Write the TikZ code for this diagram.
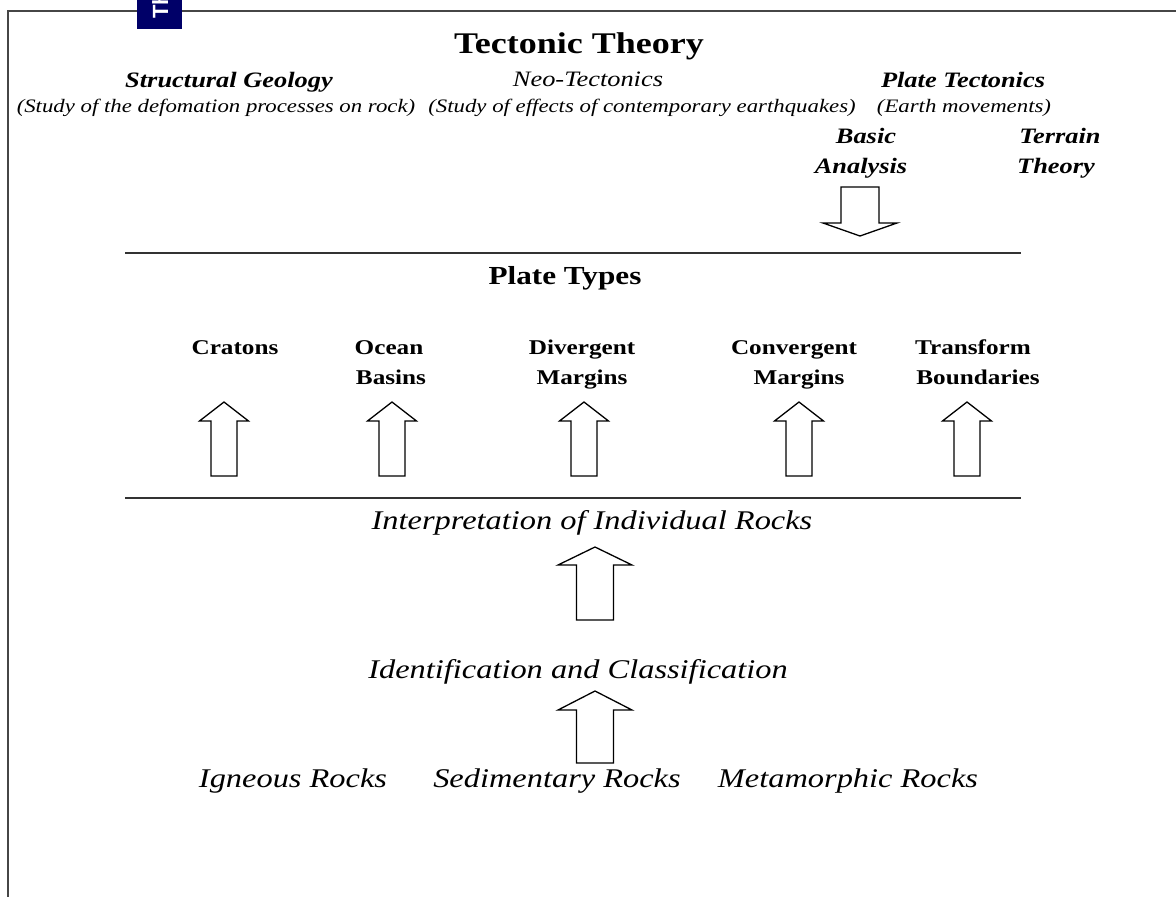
\documentclass[tikz,border=0pt]{standalone}
\usepackage{fontspec}
\setmainfont{Liberation Serif}[FakeStretch=1.2]
\setsansfont{Liberation Sans}
\definecolor{navybox}{RGB}{0,0,104}
\definecolor{framegray}{RGB}{70,70,70}
\tikzset{
  pics/uparrow/.style n args={4}{code={
    \draw[blk] (0,0) -- (#1,#3) -- (#2,#3) -- (#2,#4) -- (-#2,#4) -- (-#2,#3) -- (-#1,#3) -- cycle;}},
  blk/.style={draw=black, line width=1.3pt, fill=white, line join=miter},
  frameline/.style={draw=framegray, line width=2pt},
  ruleline/.style={draw=black!80, line width=2pt},
  txt/.style={anchor=base, inner sep=0pt},
  titletxt/.style={txt, font=\bfseries\fontsize{30}{36}\selectfont},
  typetxt/.style={txt, font=\bfseries\fontsize{26}{31}\selectfont},
  headbi/.style={txt, font=\bfseries\itshape\fontsize{22}{26}\selectfont},
  headi/.style={txt, font=\itshape\fontsize{22}{26}\selectfont},
  smalli/.style={txt, font=\itshape\fontsize{19}{23}\selectfont},
  labeltxt/.style={txt, font=\bfseries\fontsize{21}{25}\selectfont},
  bigi/.style={txt, font=\itshape\fontsize{27}{32}\selectfont},
}
\begin{document}
\begin{tikzpicture}[x=1pt,y=-1pt]
\useasboundingbox (0,0) rectangle (1176,897);
\fill[white] (0,0) rectangle (1176,897);
% frame
\draw[frameline] (8,897) -- (8,11) -- (1176,11);
\fill[navybox] (137,0) rectangle (182,29);
\begin{scope}
  \clip (137,0) rectangle (182,29);
  \node[anchor=base west, inner sep=0pt, rotate=90, text=white, font=\sffamily\bfseries\fontsize{22}{26}\selectfont] (tab) at (168,19) {Th};
\end{scope}
% headings
\node[titletxt] (title) at (579,53) {Tectonic Theory};
\node[headbi] (sg) at (229,87) {Structural Geology};
\node[smalli] (sgd) at (216,112) {(Study of the defomation processes on rock)};
\node[headi] (nt) at (588,86) {Neo-Tectonics};
\node[smalli] (ntd) at (642,112) {(Study of effects of contemporary earthquakes)};
\node[headbi] (pt) at (963,87) {Plate Tectonics};
\node[smalli] (ptd) at (964,112) {(Earth movements)};
\node[headbi] (ba1) at (866,143) {Basic};
\node[headbi] (ba2) at (861,173) {Analysis};
\node[headbi] (tt1) at (1060,143) {Terrain};
\node[headbi] (tt2) at (1056,173) {Theory};
\pic[yscale=-1] (darr) at (860,236) {uparrow={37}{19}{13}{49}};
% rules
\coordinate (r1a) at (125,253); \coordinate (r1b) at (1021,253);
\coordinate (r2a) at (125,498); \coordinate (r2b) at (1021,498);
\draw[ruleline] (r1a) -- (r1b);
\draw[ruleline] (r2a) -- (r2b);
% plate types
\node[typetxt] (types) at (565,284) {Plate Types};
\node[labeltxt] (cr) at (235,354) {Cratons};
\node[labeltxt] (ob1) at (389,354) {Ocean};
\node[labeltxt] (ob2) at (391,384) {Basins};
\node[labeltxt] (dm1) at (582,354) {Divergent};
\node[labeltxt] (dm2) at (582,384) {Margins};
\node[labeltxt] (cm1) at (794,354) {Convergent};
\node[labeltxt] (cm2) at (799,384) {Margins};
\node[labeltxt] (tb1) at (973,354) {Transform};
\node[labeltxt] (tb2) at (978,384) {Boundaries};
\pic (a1) at (224,402) {uparrow={24.5}{13}{19}{74}};
\pic (a2) at (392,402) {uparrow={24.5}{13}{19}{74}};
\pic (a3) at (584,402) {uparrow={24.5}{13}{19}{74}};
\pic (a4) at (799,402) {uparrow={24.5}{13}{19}{74}};
\pic (a5) at (967,402) {uparrow={24.5}{13}{19}{74}};
% rocks
\node[bigi] (interp) at (592,529) {Interpretation of Individual Rocks};
\pic (a6) at (595,547) {uparrow={37}{18.5}{18}{73}};
\node[bigi] (ident) at (578,678) {Identification and Classification};
\pic (a7) at (595,691) {uparrow={37}{18.5}{19}{72}};
\node[bigi] (ign) at (293,787) {Igneous Rocks};
\node[bigi] (sed) at (557,787) {Sedimentary Rocks};
\node[bigi] (met) at (848,787) {Metamorphic Rocks};
\end{tikzpicture}
\end{document}
